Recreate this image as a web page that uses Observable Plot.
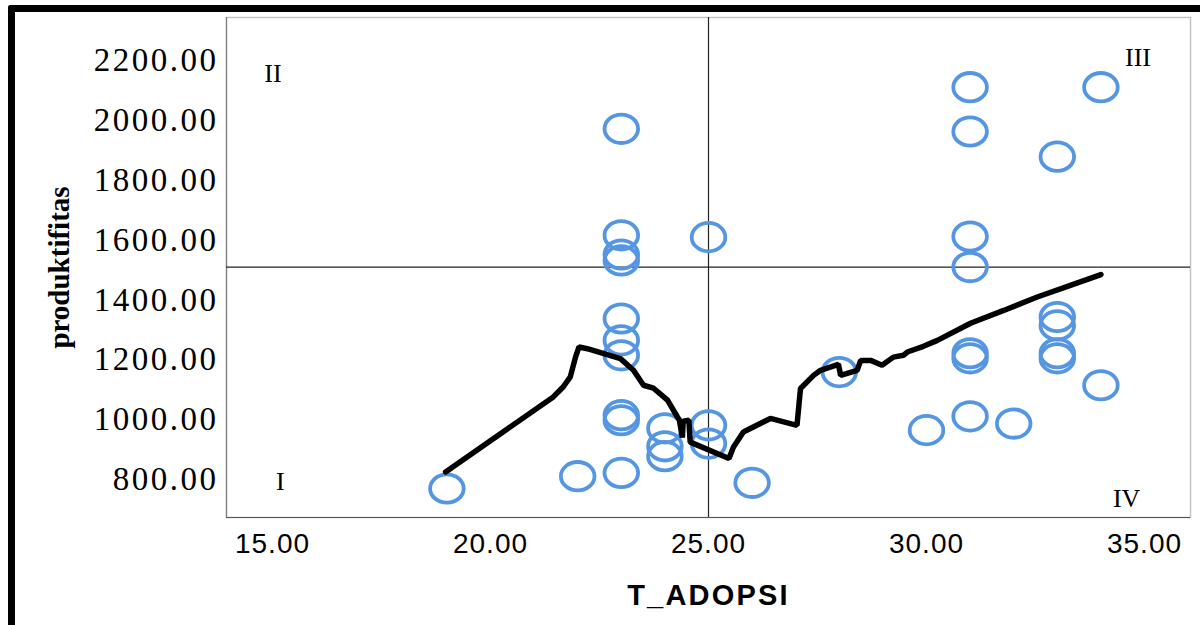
<!DOCTYPE html>
<html>
<head>
<meta charset="utf-8">
<script src="https://cdn.jsdelivr.net/npm/d3@7"></script>
<script src="https://cdn.jsdelivr.net/npm/@observablehq/plot@0.6"></script>
<style>
  html, body { margin: 0; padding: 0; background: #fff; overflow: hidden; }
  #wrap { position: relative; width: 1200px; height: 625px; }
  #border { position: absolute; left: 8px; top: 5px; right: -20px; bottom: -20px;
            border-top: 7px solid #000; border-left: 7px solid #000; border-top-left-radius: 3px;
            pointer-events: none; }
</style>
</head>
<body>
<div id="wrap"><div id="chart"></div><div id="border"></div></div>
<script>
// ---- data ----
const adopsi = [19, 22, 23, 23, 23, 23, 23, 23, 23, 23, 23, 23, 24, 24, 24, 25, 25, 25, 26, 28, 30,
                31, 31, 31, 31, 31, 31, 31, 32, 33, 33, 33, 33, 33, 34, 34];
const produktifitas = [770, 811, 1972, 1616, 1552, 1532, 1338, 1265, 1215, 1015, 998, 822, 971, 911, 878, 1610, 981, 920, 789, 1159, 965,
                       2111, 1963, 1612, 1510, 1222, 1205, 1011, 987, 1879, 1343, 1315, 1222, 1205, 2111, 1115];

// fit line (loess)
const fitX = [18.97, 21.44, 21.67, 21.83, 21.95, 22.03, 22.22, 22.98, 23.28, 23.51, 23.74, 24.06, 24.29, 24.33, 24.40, 24.42, 24.55, 24.58,
              25.47, 25.57, 25.80, 26.42, 27.03, 27.11, 27.41, 27.57, 27.98, 28.03, 28.41, 28.49, 28.72, 28.98, 29.24, 29.47, 29.56,
              29.93, 30.25, 31.01, 31.77, 32.54, 33.30, 34.00];
const fitY = [825, 1076, 1110, 1143, 1209, 1243, 1237, 1204, 1165, 1115, 1105, 1065, 1008, 1000, 940, 995, 998, 925,
              870, 908, 959, 1004, 981, 1104, 1148, 1165, 1185, 1148, 1165, 1198, 1198, 1182, 1209, 1215, 1226,
              1245, 1265, 1322, 1365, 1410, 1449, 1485];

// reference (mean) lines
const meanX = 25;
const meanY = 1510;

// quadrant labels
const quadLabels = ["I", "II", "III", "IV"];
const quadX = [15.18, 15.01, 34.85, 34.59];
const quadY = [794, 2155, 2211, 736];

const xTicks = [15, 20, 25, 30, 35];
const yTicks = [800, 1000, 1200, 1400, 1600, 1800, 2000, 2200];
const xDomain = [13.945, 36.055];
const yDomain = [673, 2344];

// ---- build ----
const points = adopsi.map((x, i) => ({x, y: produktifitas[i]}));
const fit = fitX.map((x, i) => ({x, y: fitY[i]}));
const quads = quadLabels.map((t, i) => ({t, x: quadX[i], y: quadY[i]}));

const k = 0.5522847;
const ellipse = {
  draw(ctx) {
    const rx = 16.8, ry = 14.2;
    ctx.moveTo(rx, 0);
    ctx.bezierCurveTo(rx, ry * k, rx * k, ry, 0, ry);
    ctx.bezierCurveTo(-rx * k, ry, -rx, ry * k, -rx, 0);
    ctx.bezierCurveTo(-rx, -ry * k, -rx * k, -ry, 0, -ry);
    ctx.bezierCurveTo(rx * k, -ry, rx, -ry * k, rx, 0);
    ctx.closePath();
  }
};

const chart = Plot.plot({
  width: 1200,
  height: 625,
  marginLeft: 226,
  marginRight: 10,
  marginTop: 17,
  marginBottom: 108,
  style: {background: "transparent", overflow: "visible"},
  x: {domain: xDomain},
  y: {domain: yDomain},
  marks: [
    Plot.frame({stroke: "#c4c4c4", strokeWidth: 1.5}),
    Plot.ruleX([xDomain[0]], {stroke: "#808080", strokeWidth: 1.2}),
    Plot.ruleY([yDomain[0]], {stroke: "#555", strokeWidth: 1.2}),
    Plot.axisY({ticks: yTicks, tickFormat: d => d.toFixed(2), tickSize: 0, tickPadding: 8,
                fontSize: 33, fontFamily: "Liberation Serif, serif", label: null}),
    Plot.axisX({ticks: xTicks, tickFormat: d => d.toFixed(2), tickSize: 0, tickPadding: 16,
                fontSize: 28, fontFamily: "Liberation Sans, Arial, sans-serif", label: null}),
    Plot.ruleY([meanY], {stroke: "#222", strokeWidth: 1.2}),
    Plot.ruleX([meanX], {stroke: "#222", strokeWidth: 1.2}),
    Plot.dot(points, {x: "x", y: "y", symbol: ellipse, r: 15, stroke: "#5596e2", strokeWidth: 3.8, fill: "none"}),
    Plot.line(fit, {x: "x", y: "y", stroke: "#000", strokeWidth: 5.5, strokeLinejoin: "miter", curve: "linear"}),
    Plot.text(quads, {x: "x", y: "y", text: "t", fontSize: 26, fontFamily: "Liberation Serif, serif", fill: "#000"}),
    Plot.text(["T_ADOPSI"], {frameAnchor: "bottom", dy: 78, text: d => d, fontSize: 29, fontWeight: "bold",
                             fontFamily: "Liberation Sans, Arial, sans-serif", fill: "#000", lineAnchor: "middle"}),
    Plot.text(["produktifitas"], {frameAnchor: "left", dx: -167, text: d => d, rotate: -90, fontSize: 29, fontWeight: "bold",
                                  fontFamily: "Liberation Serif, serif", fill: "#000", lineAnchor: "middle", textAnchor: "middle"})
  ]
});

d3.select(chart).selectAll('g[aria-label="y-axis tick label"] text').style("letter-spacing", "2.5px");
d3.select(chart).selectAll('g[aria-label="x-axis tick label"] text').style("letter-spacing", "1px");
d3.select(chart).selectAll('g[aria-label="text"] text').filter(function() { return this.textContent === "T_ADOPSI"; })
  .style("letter-spacing", "2.2px");
document.getElementById("chart").appendChild(chart);
</script>
</body>
</html>
